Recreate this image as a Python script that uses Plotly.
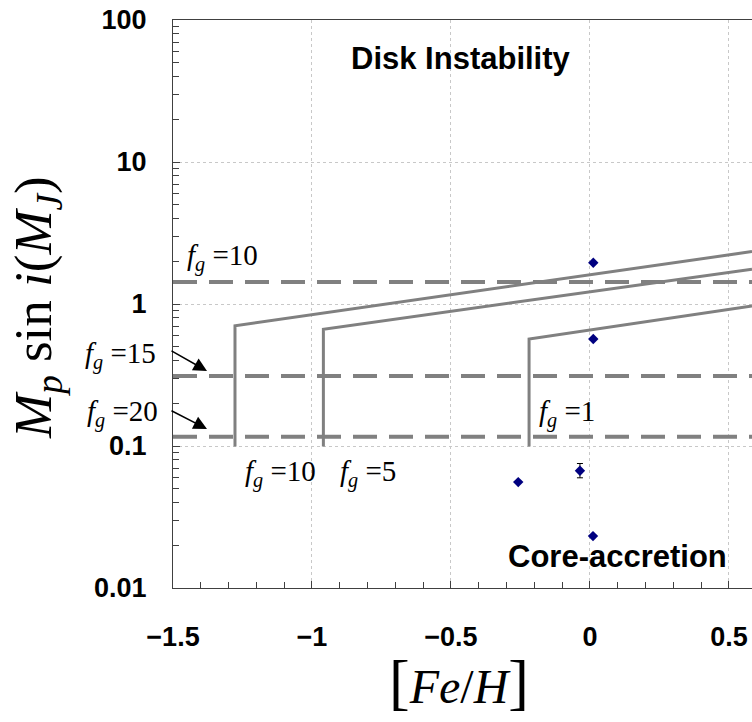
import plotly.graph_objects as go
import numpy as np

# ---- data ----
obs_feh = [0.012, 0.012, -0.258, 0.011]
obs_mass = [1.95, 0.567, 0.0557, 0.0232]
err_feh = [-0.036]
err_mass = [0.067]
err_plus = [0.0083]
err_minus = [0.0073]

fg_h_labels = ["10", "15", "20"]
fg_h_mass = [1.43, 0.311, 0.116]

fg_c_labels = ["10", "5", "1"]
curve_start_feh = [-1.277, -0.959, -0.219]
curve_start_mass = [0.703, 0.664, 0.567]
curve_bottom_mass = [0.099, 0.099, 0.099]
curve_end_feh = [0.583, 0.583, 0.583]
curve_end_mass = [2.34, 1.76, 0.968]

x_range = [-1.5, 0.583]
y_range_log = [-2, 2]
x_ticks = [-1.5, -1, -0.5, 0, 0.5]
x_tick_text = ["\u22121.5", "\u22121", "\u22120.5", "0", "0.5"]
y_ticks = [0.01, 0.1, 1, 10, 100]
y_tick_text = ["0.01", "0.1", "1", "10", "100"]

W, H = 752, 722
L, T, B, R = 173, 20, 134, 0
PW, PH = W - L - R, H - T - B

def px(xp):
    return (xp - L) / PW

def py(yp):
    return (H - B - yp) / PH

GRAY = "#808080"
SERIF = "Liberation Serif, Times New Roman, serif"
SANS = "Liberation Sans, Arial, sans-serif"

fig = go.Figure()

# horizontal dashed lines
for m in fg_h_mass:
    fig.add_trace(go.Scatter(x=[x_range[0], x_range[1]], y=[m, m], mode="lines",
                             line=dict(color=GRAY, width=4, dash="24px,12px"),
                             hoverinfo="skip", showlegend=False))

# curves
for xs, ys, yb, xe, ye in zip(curve_start_feh, curve_start_mass, curve_bottom_mass,
                              curve_end_feh, curve_end_mass):
    fig.add_trace(go.Scatter(x=[xs, xs, xe], y=[yb, ys, ye], mode="lines",
                             line=dict(color=GRAY, width=3),
                             hoverinfo="skip", showlegend=False))

# observations
fig.add_trace(go.Scatter(x=obs_feh, y=obs_mass, mode="markers",
                         marker=dict(symbol="diamond", size=8, color="#000080"),
                         showlegend=False))
fig.add_trace(go.Scatter(x=err_feh, y=err_mass, mode="markers",
                         marker=dict(symbol="diamond", size=8, color="#000080"),
                         error_y=dict(type="data", array=err_plus, arrayminus=err_minus,
                                      color="black", thickness=1, width=3),
                         showlegend=False))

def fg(v):
    return "<i>f</i><sub><i>g</i></sub> =" + v

ann = []
# horizontal-line labels
ann.append(dict(x=px(222), y=py(257), text=fg(fg_h_labels[0])))
ann.append(dict(x=px(120), y=py(355), text=fg(fg_h_labels[1])))
ann.append(dict(x=px(122), y=py(413), text=fg(fg_h_labels[2])))
# curve labels
ann.append(dict(x=px(280), y=py(473), text=fg(fg_c_labels[0])))
ann.append(dict(x=px(368), y=py(473), text=fg(fg_c_labels[1])))
ann.append(dict(x=px(567), y=py(413), text=fg(fg_c_labels[2])))
for a in ann:
    a.update(xref="paper", yref="paper", showarrow=False, xanchor="center", yanchor="middle",
             font=dict(family=SERIF, size=29, color="black"))

# arrows
for (tx, ty, hx, hy) in [(170, 350, 207, 371), (170, 410, 207, 429)]:
    ann.append(dict(xref="paper", yref="paper", x=px(hx), y=py(hy), text="",
                    showarrow=True, arrowhead=2, arrowsize=1.8, arrowwidth=1.5,
                    arrowcolor="black", axref="pixel", ayref="pixel",
                    ax=tx - hx, ay=ty - hy))

# region labels
ann.append(dict(xref="paper", yref="paper", x=px(461), y=py(59), text="<b>Disk Instability</b>",
                xanchor="center", yanchor="middle",
                showarrow=False, font=dict(family=SANS, size=31, color="black")))
ann.append(dict(xref="paper", yref="paper", x=px(617), y=py(556), text="<b>Core-accretion</b>",
                xanchor="center", yanchor="middle",
                showarrow=False, font=dict(family=SANS, size=31, color="black")))

# axis titles
ann.append(dict(xref="paper", yref="paper", x=px(37), y=py(308), textangle=-90,
                xanchor="center", yanchor="middle",
                text="<i>M</i><sub><i>p</i></sub> sin<i> i</i>(<i>M</i><sub><i>J</i></sub>)",
                showarrow=False, font=dict(family=SERIF, size=53, color="black")))
ann.append(dict(xref="paper", yref="paper", x=px(459), y=py(682),
                xanchor="center", yanchor="middle",
                text="<span style='font-size:62px'>[</span><i>Fe</i>/<i>H</i><span style='font-size:62px'>]</span>",
                showarrow=False, font=dict(family=SERIF, size=48, color="black")))

y_minor = []
for d in [0.01, 0.1, 1, 10]:
    for k in range(2, 10):
        y_minor.append(d * k)

fig.update_layout(
    width=W, height=H,
    margin=dict(l=L, r=R, t=T, b=B, pad=0),
    paper_bgcolor="white", plot_bgcolor="white",
    showlegend=False,
    annotations=ann,
    xaxis=dict(range=x_range, tickvals=x_ticks, ticktext=x_tick_text,
               ticks="inside", ticklen=7, tickcolor="#404040",
               showline=True, linecolor="#404040", linewidth=1, mirror=True,
               showgrid=True, gridcolor="#c8c8c8", griddash="dot", gridwidth=1,
               zeroline=False, ticklabelstandoff=25,
               tickfont=dict(family=SANS, size=27, color="black", weight="bold"),
               minor=dict(ticks="inside", ticklen=6, dtick=0.1, tickcolor="#404040",
                          showgrid=False)),
    yaxis=dict(type="log", range=y_range_log, tickvals=y_ticks, ticktext=y_tick_text,
               ticks="inside", ticklen=7, tickcolor="#404040",
               showline=True, linecolor="#404040", linewidth=1, mirror=False,
               showgrid=True, gridcolor="#c8c8c8", griddash="dot", gridwidth=1,
               zeroline=False, ticklabelstandoff=20,
               tickfont=dict(family=SANS, size=27, color="black", weight="bold"),
               minor=dict(ticks="inside", ticklen=6, tickvals=y_minor, tickcolor="#404040",
                          showgrid=False)),
)

fig.write_html("out.html")
